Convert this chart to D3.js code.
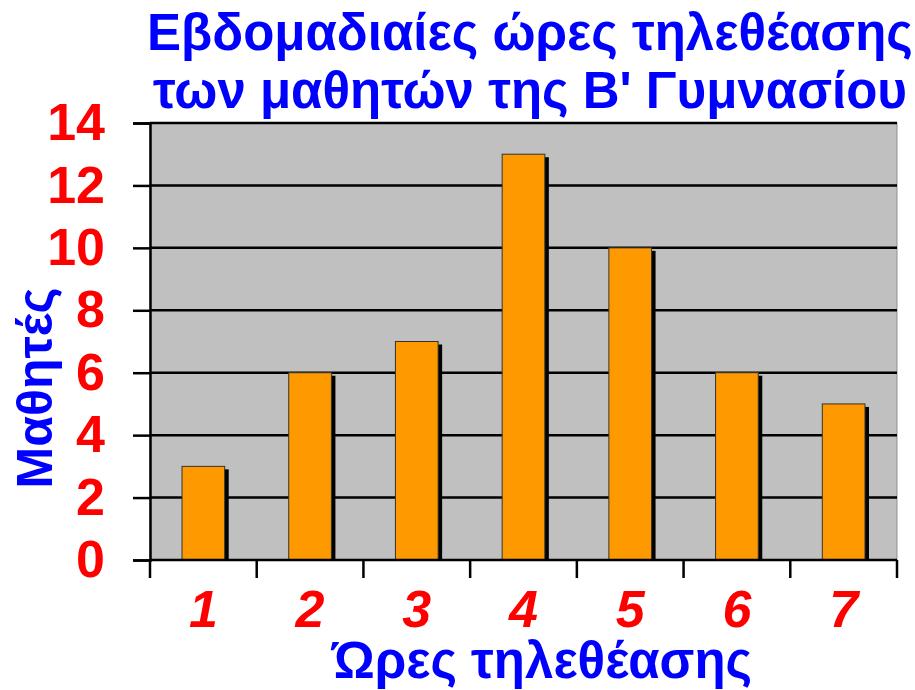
<!DOCTYPE html>
<html>
<head>
<meta charset="utf-8">
<script src="https://cdn.jsdelivr.net/npm/d3@7"></script>
<style>
  html, body { margin: 0; padding: 0; background: #fff; }
  text { font-family: "Liberation Sans", Arial, sans-serif; font-weight: bold; }
</style>
</head>
<body>
<svg id="chart" width="915" height="690"></svg>
<script>
const categories = ["1", "2", "3", "4", "5", "6", "7"];
const students = [3, 6, 7, 13, 10, 6, 5];
const yTicks = [0, 2, 4, 6, 8, 10, 12, 14];
const titleLines = ["Εβδομαδιαίες ώρες τηλεθέασης", "των μαθητών της Β' Γυμνασίου"];
const xTitle = "Ώρες τηλεθέασης";
const yTitle = "Μαθητές";

const svg = d3.select("#chart");
const plot = { left: 150, right: 897, top: 123, bottom: 560 };

const x = d3.scaleBand().domain(categories).range([plot.left, plot.right]).paddingInner(0.6).paddingOuter(0.3);
const band = d3.scaleBand().domain(categories).range([plot.left, plot.right]);
const y = d3.scaleLinear().domain([0, 14]).range([plot.bottom, plot.top]);

// plot background
svg.append("rect")
  .attr("x", plot.left).attr("y", plot.top)
  .attr("width", plot.right - plot.left).attr("height", plot.bottom - plot.top)
  .attr("fill", "#c0c0c0").attr("stroke", "#909090").attr("stroke-width", 1);

// gridlines
svg.append("g").selectAll("line").data(yTicks.filter(d => d > 0)).join("line")
  .attr("x1", plot.left).attr("x2", plot.right)
  .attr("y1", d => y(d)).attr("y2", d => y(d))
  .attr("stroke", "#000").attr("stroke-width", 2.5);

// bar shadows
svg.append("g").selectAll("rect").data(students).join("rect")
  .attr("x", (d, i) => x(categories[i]) + 4)
  .attr("y", d => y(d) + 3)
  .attr("width", x.bandwidth())
  .attr("height", d => plot.bottom - y(d) - 3)
  .attr("fill", "#000");

// bars
svg.append("g").selectAll("rect").data(students).join("rect")
  .attr("x", (d, i) => x(categories[i]))
  .attr("y", d => y(d))
  .attr("width", x.bandwidth())
  .attr("height", d => plot.bottom - y(d))
  .attr("fill", "#ff9900").attr("stroke", "#333").attr("stroke-width", 1);

// y axis
const yAxis = svg.append("g").attr("transform", `translate(${plot.left},0)`)
  .call(d3.axisLeft(y).tickValues(yTicks).tickSize(17).tickPadding(28));
yAxis.select(".domain").attr("stroke", "#000").attr("stroke-width", 2.5);
yAxis.selectAll(".tick line").attr("stroke", "#000").attr("stroke-width", 2.5);
yAxis.selectAll(".tick text")
  .attr("fill", "#ff0000").attr("font-size", 52)
  .attr("font-family", "Liberation Sans, Arial, sans-serif").attr("font-weight", "bold");

// x axis with tick marks on band edges
const xg = svg.append("g").attr("transform", `translate(0,${plot.bottom})`);
xg.append("line").attr("x1", plot.left).attr("x2", plot.right).attr("stroke", "#000").attr("stroke-width", 2.5);
const edges = categories.map(c => band(c)).concat([plot.right]);
xg.selectAll("line.edge").data(edges).join("line").attr("class", "edge")
  .attr("x1", d => d).attr("x2", d => d).attr("y1", 0).attr("y2", 18)
  .attr("stroke", "#000").attr("stroke-width", 2.5);
xg.selectAll("text").data(categories).join("text")
  .attr("x", d => band(d) + band.bandwidth() / 2)
  .attr("y", 67)
  .attr("text-anchor", "middle")
  .attr("fill", "#ff0000").attr("font-size", 52).attr("font-style", "italic")
  .text(d => d);

// titles
svg.append("g").selectAll("text").data(titleLines).join("text")
  .attr("x", 530).attr("y", (d, i) => 50 + i * 58)
  .attr("text-anchor", "middle")
  .attr("fill", "#0000ff").attr("font-size", 51)
  .text(d => d);

svg.append("text")
  .attr("x", 542).attr("y", 678)
  .attr("text-anchor", "middle")
  .attr("fill", "#0000ff").attr("font-size", 51)
  .text(xTitle);

svg.append("text")
  .attr("transform", "translate(52,388) rotate(-90)")
  .attr("text-anchor", "middle")
  .attr("fill", "#0000ff").attr("font-size", 50)
  .text(yTitle);
</script>
</body>
</html>
